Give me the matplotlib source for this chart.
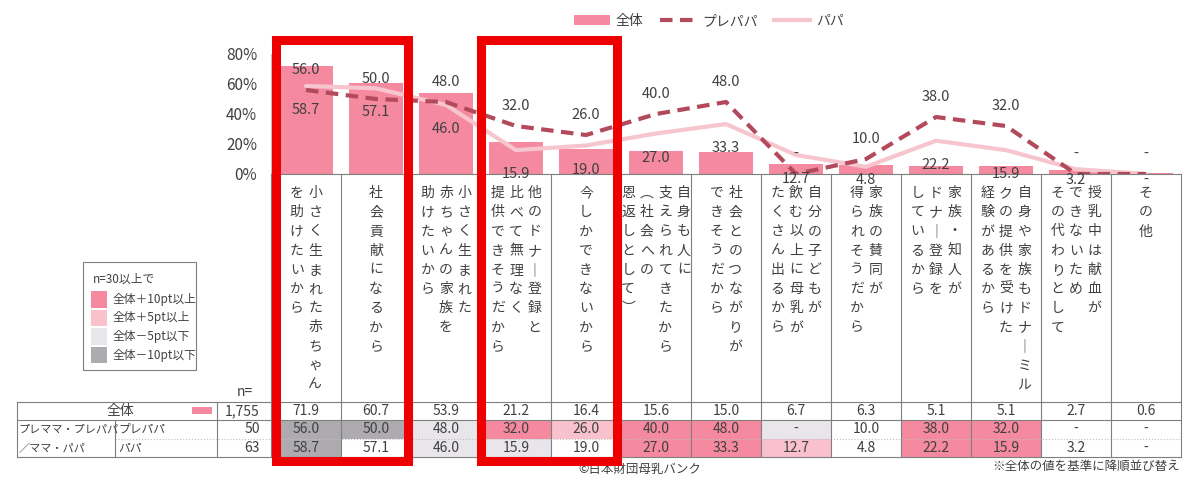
import numpy as np
import matplotlib.pyplot as plt
from matplotlib.patches import Rectangle, Patch
from matplotlib.lines import Line2D

plt.rcParams['font.family'] = ['Noto Sans CJK JP', 'DejaVu Sans']

# データ(全体の値で降順)
categories = [
    ["小さく生まれた赤ちゃん", "を助けたいから"],
    ["社会貢献になるから"],
    ["小さく生まれた", "赤ちゃんの家族を", "助けたいから"],
    ["他のドナー登録と", "比べて無理なく", "提供できそうだから"],
    ["今しかできないから"],
    ["自身も人に", "支えられてきたから", "（社会への", "恩返しとして）"],
    ["社会とのつながりが", "できそうだから"],
    ["自分の子どもが", "飲む以上に母乳が", "たくさん出るから"],
    ["家族の賛同が", "得られそうだから"],
    ["家族・知人が", "ドナー登録を", "しているから"],
    ["自身や家族もドナーミル", "クの提供を受けた", "経験があるから"],
    ["授乳中は献血が", "できないため", "その代わりとして"],
    ["その他"],
]
total = [71.9, 60.7, 53.9, 21.2, 16.4, 15.6, 15.0, 6.7, 6.3, 5.1, 5.1, 2.7, 0.6]
prepapa = [56.0, 50.0, 48.0, 32.0, 26.0, 40.0, 48.0, np.nan, 10.0, 38.0, 32.0, np.nan, np.nan]
papa = [58.7, 57.1, 46.0, 15.9, 19.0, 27.0, 33.3, 12.7, 4.8, 22.2, 15.9, 3.2, np.nan]
n_total = "1,755"
n_prepapa = 50
n_papa = 63
yticks = [0, 20, 40, 60, 80]
highlight = [0, 3]  # 赤枠で囲む選択肢(先頭の列)

# 色
c_bar = '#F4899F'
c_pre = '#B34A5C'
c_papa = '#F7C5CD'
c_txt = '#404040'
c_grid = '#7F7F7F'
c_up10 = '#F4899F'
c_up5 = '#F9C1CC'
c_dn5 = '#E8E6EA'
c_dn10 = '#ADABAF'
c_red = '#EE0000'

W, H = 1200, 478
x0, colw = 271, 70
ncat = len(total)

fig = plt.figure(figsize=(12, 4.78), dpi=100)

# グラフ部分
ax = fig.add_axes([x0 / W, 1 - 174 / H, ncat * colw / W, 120 / H])
x = np.arange(ncat)
pre_line = np.nan_to_num(np.array(prepapa))
papa_line = np.nan_to_num(np.array(papa))
ax.bar(x, total, width=0.76, color=c_bar, zorder=1)
ax.plot(x, papa_line, color=c_papa, lw=3, zorder=2, solid_capstyle='round')
ax.plot(x, pre_line, color=c_pre, lw=3, ls=(0, (3, 1.8)), zorder=3)
ax.set_xlim(-0.5, ncat - 0.5)
ax.set_ylim(0, 80)
ax.set_xticks([])
ax.set_yticks(yticks)
ax.set_yticklabels([f'{t}%' for t in yticks], fontsize=11, color=c_txt)
ax.tick_params(axis='y', length=0, pad=10)
for s in ['top', 'right']:
    ax.spines[s].set_visible(False)
ax.spines['left'].set_color('#BFBFBF')
ax.spines['bottom'].set_color(c_grid)
ax.patch.set_alpha(0)

for i, v in enumerate(prepapa):
    lab = '-' if np.isnan(v) else f'{v:.1f}'
    ax.text(i, pre_line[i] + 13.5, lab, ha='center', va='center',
            fontsize=10.5, color=c_txt, zorder=4)
for i, v in enumerate(papa):
    lab = '-' if np.isnan(v) else f'{v:.1f}'
    ax.text(i, max(papa_line[i] - 16, -4), lab, ha='center', va='center',
            fontsize=10.5, color=c_txt, zorder=4, clip_on=False)

fig.legend(handles=[Patch(facecolor=c_bar, label='全体'),
                    Line2D([], [], color=c_pre, lw=3, ls=(0, (3, 1.8)), label='プレパパ'),
                    Line2D([], [], color=c_papa, lw=3, label='パパ')],
           loc='center', bbox_to_anchor=(709 / W, 1 - 21 / H), ncol=3,
           frameon=False, fontsize=10, handlelength=2.6, columnspacing=1.2,
           handletextpad=0.4, labelcolor=c_txt)

# 重ね書き用(ピクセル座標)
ov = fig.add_axes([0, 0, 1, 1], zorder=5)
ov.set_xlim(0, W)
ov.set_ylim(H, 0)
ov.axis('off')
ov.patch.set_visible(False)

# 選択肢ラベル(縦書き)
vmap = {'ー': '｜', '（': '︵', '）': '︶'}
for i, lines in enumerate(categories):
    cx = x0 + colw * i + colw / 2
    nl = len(lines)
    for j, line in enumerate(lines):
        lx = cx + (nl - 1) / 2 * 18.5 - j * 18.5
        for k, ch in enumerate(line):
            ov.text(lx, 193 + k * 19.2, vmap.get(ch, ch), ha='center', va='center',
                    fontsize=10, color=c_txt)

# 表
row_y = [402, 420, 438.5, 457]
lc = dict(color=c_grid, lw=0.8)


def cell_color(v, base):
    d = (0 if np.isnan(v) else v) - base
    if d >= 10:
        return c_up10
    if d >= 5:
        return c_up5
    if d <= -10:
        return c_dn10
    if d <= -5:
        return c_dn5
    return None


for r, vals in enumerate([prepapa, papa]):
    for i, v in enumerate(vals):
        col = cell_color(v, total[i])
        if col:
            ov.add_patch(Rectangle((x0 + colw * i, row_y[r + 1]), colw,
                                   row_y[r + 2] - row_y[r + 1], color=col, lw=0))

xr = x0 + ncat * colw
for yy in [row_y[0], row_y[1], row_y[3]]:
    ov.plot([17, xr], [yy, yy], **lc)
ov.plot([115, xr], [row_y[2], row_y[2]], color='#BFBFBF', lw=0.8, ls=':')
ov.plot([17, 17], [row_y[0], row_y[3]], **lc)
ov.plot([115, 115], [row_y[1], row_y[3]], **lc)
ov.plot([217, 217], [row_y[0], row_y[3]], **lc)
for k in range(ncat + 1):
    ov.plot([x0 + colw * k] * 2, [174, row_y[3]], **lc)

ty = [(row_y[r] + row_y[r + 1]) / 2 for r in range(3)]
ov.text(120, ty[0], '全体', ha='center', va='center', fontsize=10, color=c_txt)
ov.add_patch(Rectangle((192, 407), 20, 7, color=c_bar, lw=0))
ov.text(19, ty[1], 'プレママ・プレパパ', ha='left', va='center', fontsize=8, color=c_txt)
ov.text(19, ty[2] + 1, '／ママ・パパ', ha='left', va='center', fontsize=8, color=c_txt)
ov.text(118, ty[1], 'プレパパ', ha='left', va='center', fontsize=8.5, color=c_txt)
ov.text(118, ty[2], 'パパ', ha='left', va='center', fontsize=8.5, color=c_txt)
ov.text(245, 392, 'n=', ha='center', va='center', fontsize=10, color=c_txt)
for r, nv in enumerate([n_total, n_prepapa, n_papa]):
    ov.text(260, ty[r], str(nv), ha='right', va='center', fontsize=10, color=c_txt)
for r, vals in enumerate([total, prepapa, papa]):
    for i, v in enumerate(vals):
        lab = '-' if np.isnan(v) else f'{v:.1f}'
        ov.text(x0 + colw * i + colw / 2, ty[r], lab, ha='center', va='center',
                fontsize=10, color=c_txt)

# 凡例(色分け)
ov.add_patch(Rectangle((83, 262), 113, 108, fill=False, ec=c_grid, lw=0.8))
ov.text(93, 279, 'n=30以上で', ha='left', va='center', fontsize=8.5, color=c_txt)
for k, (col, lab) in enumerate([(c_up10, '全体＋10pt以上'), (c_up5, '全体＋5pt以上'),
                                (c_dn5, '全体－5pt以下'), (c_dn10, '全体－10pt以下')]):
    yy = 291 + k * 18.5
    ov.add_patch(Rectangle((91, yy), 16, 16.5, color=col, lw=0))
    ov.text(113, yy + 8.5, lab, ha='left', va='center', fontsize=8.5, color=c_txt)

ov.text(640, 469, '©日本財団母乳バンク', ha='center', va='center', fontsize=9, color=c_txt)
ov.text(1180, 466, '※全体の値を基準に降順並び替え', ha='right', va='center', fontsize=9, color=c_txt)

# 赤枠(線幅9px、内側に描く)
for i0 in highlight:
    left = x0 + colw * i0 - (5 if i0 else 0)
    right = x0 + colw * (i0 + 2) + (1 if i0 == 0 else 0)
    ov.add_patch(Rectangle((left + 4.5, 39.5), right - left - 9, 421,
                           fill=False, ec=c_red, lw=6.5, zorder=10))

fig.savefig('out.png', dpi=100)
